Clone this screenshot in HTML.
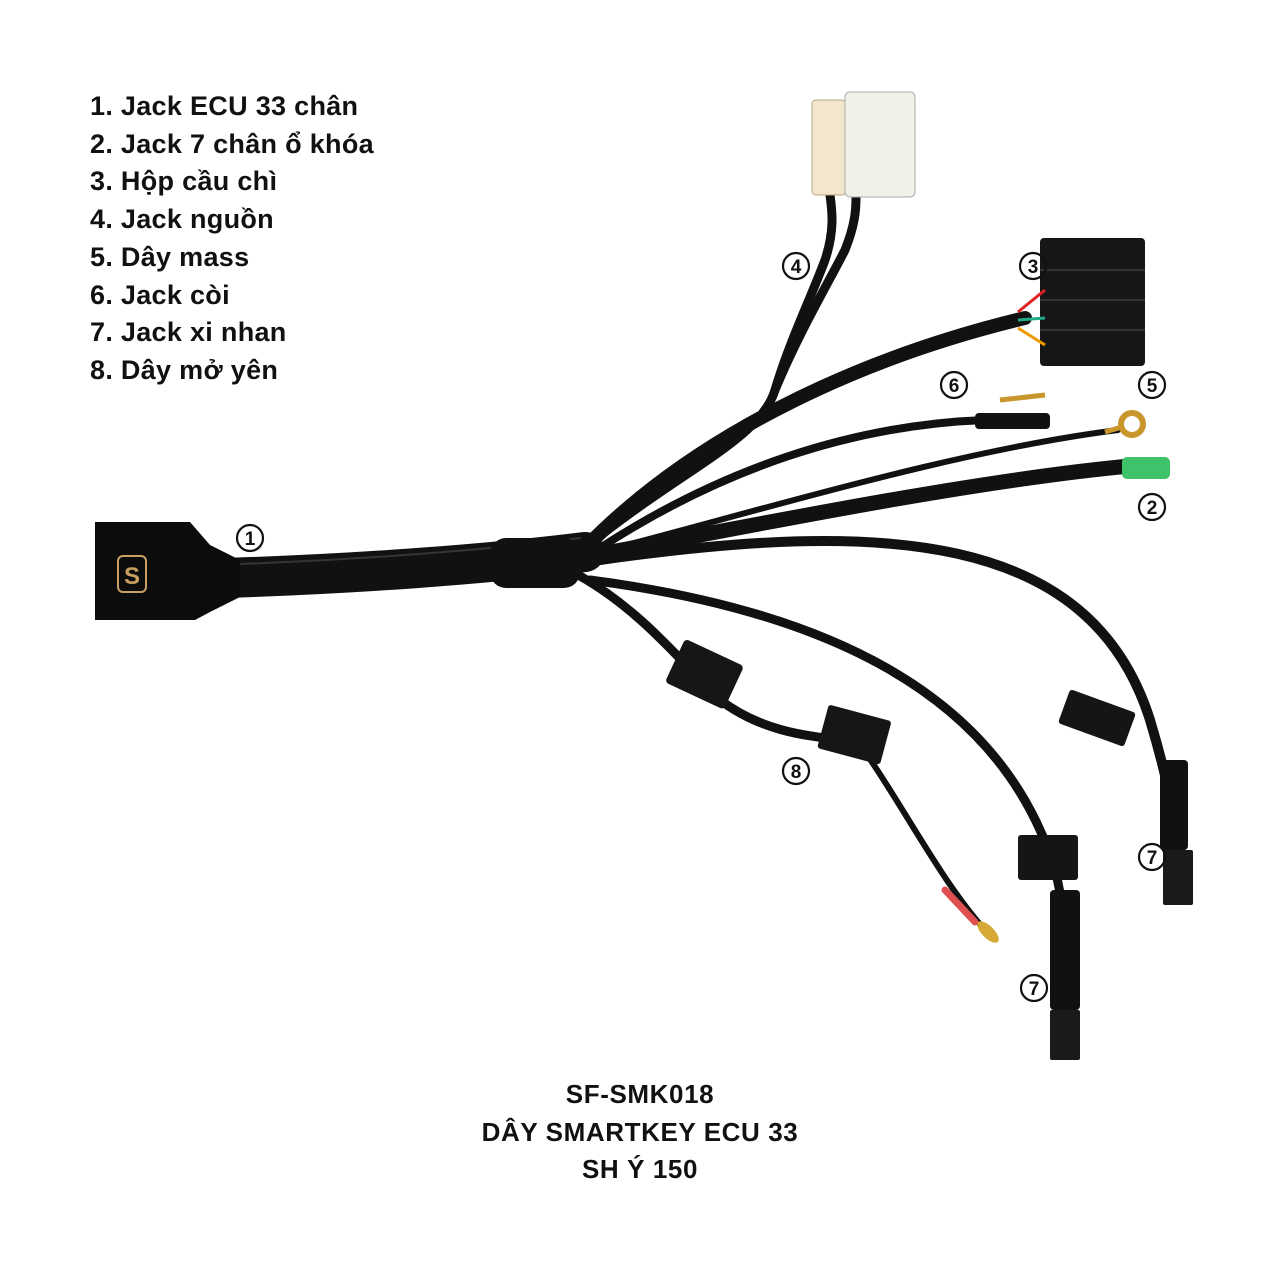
<!DOCTYPE html>
<html><head><meta charset="utf-8">
<style>
html,body{margin:0;padding:0;background:#fff;}
#w{position:relative;width:1280px;height:1280px;overflow:hidden;background:#fff;font-family:"Liberation Sans",sans-serif;}
.list{position:absolute;left:90px;top:88px;font-weight:bold;font-size:27px;letter-spacing:0.3px;line-height:37.7px;color:#111;}
.title{position:absolute;left:0;width:1280px;top:1076px;text-align:center;font-weight:bold;font-size:26px;letter-spacing:0.6px;line-height:37.5px;color:#111;}
svg{position:absolute;left:0;top:0;}
</style></head><body><div id="w">
<svg width="1280" height="1280" viewBox="0 0 1280 1280">
<g fill="none" stroke="#111" stroke-linecap="round">
 <path d="M585,548 C680,470 760,440 775,390 C790,340 810,300 825,260 C835,230 832,210 830,195" stroke-width="9"/>
 <path d="M775,390 C800,330 830,280 845,250 C855,225 856,210 856,198" stroke-width="9"/>
 <path d="M585,548 C690,440 850,360 1025,318" stroke-width="14"/>
 <path d="M600,548 C720,470 850,425 985,420" stroke-width="8"/>
 <path d="M600,552 C780,505 960,450 1118,430" stroke-width="6"/>
 <path d="M590,556 C780,520 980,480 1130,466" stroke-width="15"/>
 <path d="M600,560 C880,520 1090,530 1150,720 C1168,780 1175,820 1180,850" stroke-width="10"/>
 <path d="M590,580 C820,610 1000,690 1055,870 C1068,920 1065,960 1065,1010" stroke-width="9"/>
 <path d="M580,576 C640,610 680,660 720,700 C760,730 800,735 840,740" stroke-width="9"/>
 <path d="M860,745 C900,800 940,880 985,930" stroke-width="6"/>
 <path d="M225,578 C350,574 480,565 585,552" stroke-width="40"/>
</g>
<g fill="none" stroke="#444" stroke-linecap="round" stroke-width="2" opacity="0.7">
 <path d="M240,564 C350,560 480,551 580,538"/>
</g>
<rect x="490" y="538" width="90" height="50" rx="16" fill="#111"/>
<path d="M95,522 L190,522 L210,545 L240,560 L240,597 L210,612 L195,620 L95,620 Z" fill="#0c0c0c"/>
<rect x="118" y="556" width="28" height="36" rx="5" fill="none" stroke="#c8a060" stroke-width="2"/>
<text x="132" y="584" font-family="Liberation Sans" font-weight="bold" font-size="24" fill="#c8a060" text-anchor="middle">S</text>
<rect x="812" y="100" width="34" height="95" rx="4" fill="#f2e6cc" stroke="#b9a780"/>
<rect x="845" y="92" width="70" height="105" rx="5" fill="#f1f1ea" stroke="#aaa"/>
<rect x="1040" y="238" width="105" height="128" rx="4" fill="#161616"/>
<g stroke="#333" stroke-width="2"><line x1="1040" y1="270" x2="1145" y2="270"/><line x1="1040" y1="300" x2="1145" y2="300"/><line x1="1040" y1="330" x2="1145" y2="330"/></g>
<g stroke-width="3" fill="none"><path d="M1018,312 L1045,290" stroke="#d22"/><path d="M1018,320 L1045,318" stroke="#2a8"/><path d="M1018,328 L1045,345" stroke="#e90"/></g>
<rect x="975" y="413" width="75" height="16" rx="4" fill="#111"/>
<path d="M1000,400 L1045,395" stroke="#c8962a" stroke-width="5"/>
<path d="M1105,432 L1122,427" stroke="#c8962a" stroke-width="5"/>
<circle cx="1132" cy="424" r="11" fill="none" stroke="#c8962a" stroke-width="6"/>
<rect x="1122" y="457" width="48" height="22" rx="5" fill="#3fc36a"/>
<rect x="1062" y="700" width="70" height="36" rx="3" fill="#151515" transform="rotate(20 1097 718)"/>
<rect x="1160" y="760" width="28" height="90" rx="4" fill="#111"/>
<rect x="1163" y="850" width="30" height="55" rx="2" fill="#1a1a1a"/>
<rect x="1018" y="835" width="60" height="45" rx="3" fill="#151515"/>
<rect x="1050" y="890" width="30" height="120" rx="4" fill="#111"/>
<rect x="1050" y="1010" width="30" height="50" rx="2" fill="#1a1a1a"/>
<rect x="672" y="650" width="65" height="48" rx="4" fill="#161616" transform="rotate(25 704 674)"/>
<rect x="822" y="712" width="65" height="45" rx="3" fill="#161616" transform="rotate(15 854 734)"/>
<path d="M945,890 L975,922" stroke="#e05050" stroke-width="7" stroke-linecap="round"/>
<ellipse cx="988" cy="932" rx="14" ry="6" fill="#d6a835" transform="rotate(45 988 932)"/>
<g font-family="Liberation Sans" font-weight="bold" font-size="19" text-anchor="middle" fill="#111">
 <g fill="none" stroke="#111" stroke-width="2.2">
  <circle cx="250" cy="538" r="13"/><circle cx="796" cy="266" r="13"/><circle cx="1033" cy="266" r="13"/>
  <circle cx="954" cy="385" r="13"/><circle cx="1152" cy="385" r="13"/><circle cx="1152" cy="507" r="13"/>
  <circle cx="796" cy="771" r="13"/><circle cx="1152" cy="857" r="13"/><circle cx="1034" cy="988" r="13"/>
 </g>
 <text x="250" y="545">1</text><text x="796" y="273">4</text><text x="1033" y="273">3</text>
 <text x="954" y="392">6</text><text x="1152" y="392">5</text><text x="1152" y="514">2</text>
 <text x="796" y="778">8</text><text x="1152" y="864">7</text><text x="1034" y="995">7</text>
</g>
</svg>
<div class="list">1. Jack ECU 33 chân<br>2. Jack 7 chân ổ khóa<br>3. Hộp cầu chì<br>4. Jack nguồn<br>5. Dây mass<br>6. Jack còi<br>7. Jack xi nhan<br>8. Dây mở yên</div>
<div class="title">SF-SMK018<br>DÂY SMARTKEY ECU 33<br>SH Ý 150</div>
</div></body></html>
